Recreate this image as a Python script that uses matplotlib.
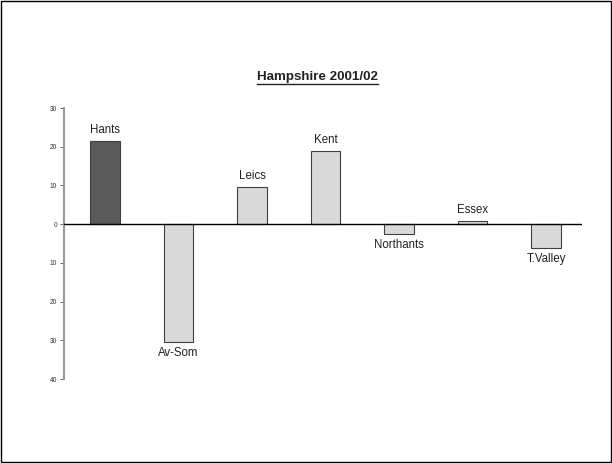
import matplotlib.pyplot as plt
from matplotlib.lines import Line2D
from matplotlib.patches import Rectangle

plt.rcParams['font.family'] = ['Liberation Sans', 'DejaVu Sans']

# data
teams = ['Hants', 'Av-Som', 'Leics', 'Kent', 'Northants', 'Essex', 'T.Valley']
values = [21.5, -30.5, 9.6, 18.9, -2.6, 0.8, -6.2]
bar_colors = ['#5a5a5a', '#d9d9d9', '#d9d9d9', '#d9d9d9', '#d9d9d9', '#d9d9d9', '#d9d9d9']
yticks = [30, 20, 10, 0, -10, -20, -30, -40]
ytick_labels = ['30', '20', '10', '0', '10', '20', '30', '40']

fig = plt.figure(figsize=(6.12, 4.63), dpi=100)
ax = fig.add_axes([0.1046, 0.1814, 0.8464, 0.5853])

x = range(len(teams))
ax.bar(x, values, width=0.4, color=bar_colors, edgecolor='#404040', linewidth=0.8, zorder=2)
ax.axhline(0, color='black', linewidth=1.0, zorder=3)

for i, v in enumerate(values):
    if v >= 0:
        ax.text(i, v + 1.2, teams[i], ha='center', va='bottom', fontsize=8.3, color='#222222')
    else:
        ax.text(i, v - 1.3, teams[i], ha='center', va='top', fontsize=8.3, color='#222222')

ax.set_xlim(-0.56, 6.49)
ax.set_ylim(-40, 30)
ax.set_yticks(yticks)
ax.set_yticklabels(ytick_labels, fontsize=4.8, color='#333333')
ax.set_xticks([])
for s in ['top', 'right', 'bottom']:
    ax.spines[s].set_visible(False)
ax.spines['left'].set_color('#999999')
ax.spines['left'].set_linewidth(1.5)
ax.tick_params(axis='y', length=3, width=0.6, color='#444444', pad=2)

# title with underline
t = fig.text(317 / 612, 1 - 77 / 463, 'Hampshire 2001/02', ha='center', va='center',
             fontsize=9.6, fontweight='bold', color='#222222')
fig.canvas.draw()
bb = t.get_window_extent().transformed(fig.transFigure.inverted())
fig.add_artist(Line2D([bb.x0, bb.x1], [bb.y0 - 0.003, bb.y0 - 0.003],
                      transform=fig.transFigure, color='#222222', linewidth=1.0))

# border around figure
fig.add_artist(Rectangle((0.0015, 0.002), 0.9965, 0.9955, transform=fig.transFigure,
                         fill=False, edgecolor='black', linewidth=1.0))

fig.savefig('out.png', dpi=100)
